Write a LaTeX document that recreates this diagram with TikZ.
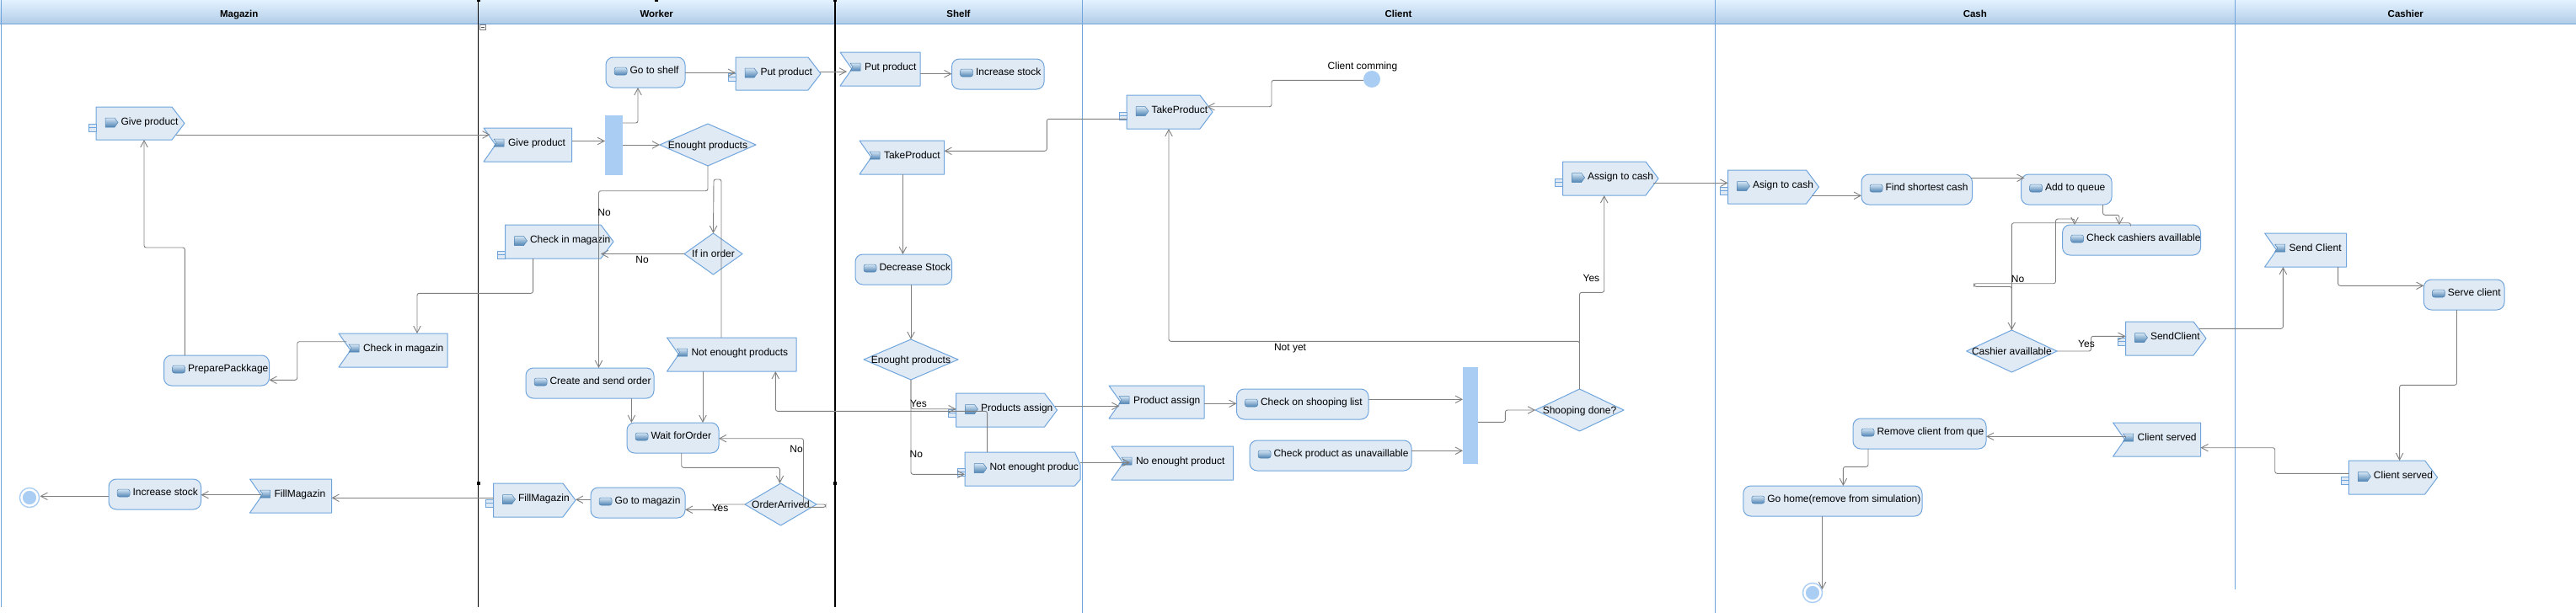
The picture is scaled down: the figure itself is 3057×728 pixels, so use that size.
\documentclass[tikz,border=0pt]{standalone}
\usepackage{fontspec}
\setmainfont{Liberation Sans}
\usetikzlibrary{arrows.meta,calc}
\definecolor{edgeblue}{HTML}{6FA5DC}
\definecolor{boxfill}{HTML}{E0EAF5}
\definecolor{barblue}{HTML}{A9CDF3}
\definecolor{connc}{HTML}{808080}
\definecolor{hdtop}{HTML}{E3F2FF}
\definecolor{hdbot}{HTML}{B2CDE7}
\definecolor{icdark}{HTML}{4F83B3}
\definecolor{iclight}{HTML}{D5E6F5}
\tikzset{
  outline/.style={draw=edgeblue,fill=boxfill,line width=1pt,line join=round},
  roundact/.style={outline,rectangle,rounded corners=9pt,inner sep=0pt,outer sep=0pt,text height=8pt,text depth=4.4pt,font=\fontsize{12}{14}\selectfont},
  evtext/.style={rectangle,inner sep=0pt,outer sep=0pt,text height=8pt,text depth=4.4pt,font=\fontsize{12}{14}\selectfont},
  dectext/.style={rectangle,inner sep=0pt,outer sep=0pt,text height=10pt,text depth=2pt,font=\fontsize{12}{14}\selectfont},
  lab/.style={inner sep=0pt,font=\fontsize{12}{14}\selectfont},
  hdcell/.style={rectangle,inner sep=0pt,outer sep=0pt,top color=hdtop,bottom color=hdbot,text height=14pt,text depth=2pt,font=\bfseries\fontsize{11.5}{14}\selectfont},
  conn/.style={draw=connc,line width=0.9pt,rounded corners=2.5pt,-{Straight Barb[length=8pt,width=8.5pt]}},
  iconst/.style={top color=iclight,bottom color=icdark,draw=icdark,line width=0.5pt},
  barnode/.style={rectangle,fill=barblue,inner sep=0pt,outer sep=0pt},
  blueline/.style={draw=edgeblue,line width=1pt},
  blackline/.style={draw=black,line width=1.5pt},
}
% rounded action: name,x1,y1,x2,y2,text
\newcommand{\roundact}[6]{%
  \pgfmathsetmacro\wid{#4-#2}\pgfmathsetmacro\hei{#5-#3}%
  \node[roundact,anchor=north west,minimum width=\wid pt,minimum height=\hei pt] (#1) at (#2,#3) {\makebox[\wid pt][l]{\hspace{28.5pt}#6}};
  \pgfmathsetmacro\cy{(#3+#5)/2}%
  \draw[iconst,rounded corners=2.5pt] (#2+10,\cy-6) rectangle (#2+25,\cy+3);
}
% send event: name,x1,y1,x2,y2,text
\newcommand{\sendev}[6]{%
  \pgfmathsetmacro\wid{#4-#2}\pgfmathsetmacro\hei{#5-#3}\pgfmathsetmacro\cy{(#3+#5)/2}%
  \draw[outline] (#2,#3) -- (#4-15,#3) -- (#4,\cy) -- (#4-15,#5) -- (#2,#5) -- cycle;
  \draw[iconst] (#2+11,\cy-6.5) -- (#2+22,\cy-6.5) -- (#2+26,\cy-1) -- (#2+22,\cy+4.5) -- (#2+11,\cy+4.5) -- cycle;
  \node[evtext,anchor=north west,minimum width=\wid pt,minimum height=\hei pt] (#1) at (#2,#3) {\makebox[\wid pt][l]{\hspace{29.5pt}#6}};
}
% accept event: name,x1,y1,x2,y2,text
\newcommand{\acceptev}[6]{%
  \pgfmathsetmacro\wid{#4-#2}\pgfmathsetmacro\hei{#5-#3}\pgfmathsetmacro\cy{(#3+#5)/2}%
  \draw[outline] (#2,#3) -- (#4,#3) -- (#4,#5) -- (#2,#5) -- (#2+14,\cy) -- cycle;
  \draw[iconst] (#2+12,\cy-7) -- (#2+24,\cy-7) -- (#2+24,\cy+2) -- (#2+12,\cy+2) -- (#2+15,\cy-2.5) -- cycle;
  \node[evtext,anchor=north west,minimum width=\wid pt,minimum height=\hei pt] (#1) at (#2,#3) {\makebox[\wid pt][l]{\hspace{29pt}#6}};
}
% decision: name,x1,y1,x2,y2,text
\newcommand{\decis}[6]{%
  \pgfmathsetmacro\wid{#4-#2}\pgfmathsetmacro\hei{#5-#3}\pgfmathsetmacro\cy{(#3+#5)/2}\pgfmathsetmacro\cx{(#2+#4)/2}%
  \draw[outline] (#2,\cy) -- (\cx,#3) -- (#4,\cy) -- (\cx,#5) -- cycle;
  \node[dectext,anchor=north west,minimum width=\wid pt,minimum height=\hei pt] (#1) at (#2,#3) {#6};
}
% pin: x of right edge, y top
\newcommand{\pinbox}[2]{%
  \draw[draw=edgeblue,fill=boxfill,line width=0.8pt] (#1-9,#2) rectangle (#1,#2+9);
  \draw[draw=edgeblue,line width=0.6pt] (#1-9,#2+4.5) -- (#1,#2+4.5);
}
\begin{document}
\begin{tikzpicture}[x=1pt,y=-1pt]
\useasboundingbox (0,0) rectangle (3057,728);
\fill[white] (0,0) rectangle (3057,728);
% swimlane headers
\node[hdcell,anchor=north west,minimum width=567.5pt,minimum height=28pt] (hMag) at (0,0) {Magazin};
\node[hdcell,anchor=north west,minimum width=423.5pt,minimum height=28pt] (hWork) at (567.5,0) {Worker};
\node[hdcell,anchor=north west,minimum width=293pt,minimum height=28pt] (hShelf) at (991,0) {Shelf};
\node[hdcell,anchor=north west,minimum width=751pt,minimum height=28pt] (hClient) at (1284,0) {Client};
\node[hdcell,anchor=north west,minimum width=617.6pt,minimum height=28pt] (hCash) at (2035,0) {Cash};
\node[hdcell,anchor=north west,minimum width=404.4pt,minimum height=28pt] (hCashier) at (2652.6,0) {Cashier};
\draw[blueline] (0,28) -- (3057,28);
\draw[blueline] (1,0) -- (1,721);
\draw[blueline] (1284,0) -- (1284,728);
\draw[blueline] (2035,0) -- (2035,728);
\draw[blueline] (2652.6,0) -- (2652.6,700);
\draw[blackline] (567.5,0) -- (567.5,721);
\draw[blackline] (991,0) -- (991,721);
\fill[black] (565.5,0) rectangle (570,1.5);
\fill[black] (776.5,0) rectangle (780.5,1.5);
\fill[black] (989,0) rectangle (993,1.5);
\fill[black] (565.5,572) rectangle (570,576);
\fill[black] (989,572) rectangle (993,576);
\draw[draw=gray,fill=white,line width=0.7pt] (569.5,29.5) rectangle (576,35.5);
\draw[draw=black!70,line width=0.8pt] (570.5,32.5) -- (575,32.5);
% Magazin
\sendev{gpS}{114}{127}{219}{166}{Give product}\pinbox{114}{147}
\roundact{prep}{194.5}{422}{319.5}{458}{PreparePackkage}
\acceptev{cimA}{402}{396}{531}{436}{Check in magazin}
\roundact{isM}{129}{569}{238.5}{605}{Increase stock}
\acceptev{fmA}{296.5}{569}{393.5}{609}{FillMagazin}
\node[circle,fill=barblue,draw=barblue,line width=1.5pt,double=white,double distance=2.5pt,minimum size=19pt,inner sep=0pt,outer sep=3pt] (endM) at (35,591) {};
% Worker
\roundact{gts}{719}{68}{813}{104}{Go to shelf}
\sendev{ppS}{873}{68}{974}{107}{Put product}\pinbox{873}{87}
\acceptev{gpA}{574}{152}{678.6}{192}{Give product}
\node[barnode,anchor=north west,minimum width=21pt,minimum height=71pt] (fork1) at (718,137) {};
\decis{enW}{783}{147}{897}{197}{Enought products}
\decis{ifo}{812}{277}{881}{326}{If in order}
\sendev{cimS}{599.5}{267}{728}{307}{Check in magazin}\pinbox{599.5}{298}
\acceptev{nepA}{791.5}{401}{945}{441}{Not enought products}
\roundact{cso}{624}{437}{776}{473}{Create and send order}
\roundact{wfo}{744}{502}{853}{538}{Wait forOrder}
\sendev{fmS}{585.5}{574}{683}{614}{FillMagazin}\pinbox{585.5}{593}
\roundact{gtm}{701}{579}{813}{615}{Go to magazin}
\decis{oa}{884}{574}{969}{624}{OrderArrived}
% Shelf
\acceptev{ppA}{997}{62}{1092}{102}{Put product}
\roundact{isS}{1129.5}{70}{1239}{106}{Increase stock}
\acceptev{tpA}{1020}{167}{1120.5}{207}{TakeProduct}
\roundact{ds}{1015}{302}{1129.5}{338}{Decrease Stock}
\decis{en2}{1025}{403}{1137}{451}{Enought products}
\sendev{paS}{1134.5}{467}{1254.5}{507}{Products assign}\pinbox{1134.5}{486}
\draw[outline] (1145,537) -- (1275.5,537) -- (1282,552) -- (1282,569.5) -- (1275.5,577) -- (1145,577) -- cycle;
\draw[iconst] (1156,550.5) -- (1167,550.5) -- (1171,556) -- (1167,561.5) -- (1156,561.5) -- cycle;
\node[evtext,anchor=north west,minimum width=137pt,minimum height=40pt] (nepS) at (1145,537) {\makebox[137pt][l]{\hspace{29.5pt}Not enought produc}};
\pinbox{1145}{556}
% Client
\sendev{tpS}{1337}{113}{1439}{153}{TakeProduct}\pinbox{1337}{133}
\node[circle,fill=barblue,minimum size=20pt,inner sep=0pt,outer sep=0pt] (cc) at (1628,94) {};
\node[lab] (ccl) at (1617,79) {Client comming};
\sendev{acS}{1854.6}{192}{1968}{232}{Assign to cash}\pinbox{1854.6}{212}
\acceptev{paA}{1316}{458}{1429}{497}{Product assign}
\acceptev{neA}{1319}{530}{1463.6}{570}{No enought product}
\roundact{cosl}{1467.5}{462}{1624}{498}{Check on shooping list}
\roundact{cpu}{1483}{523}{1675}{559}{Check product as unavaillable}
\node[barnode,anchor=north west,minimum width=18pt,minimum height=115pt] (fork2) at (1736,436) {};
\decis{sd}{1822}{462}{1927}{512}{Shooping done?}
% Cash
\sendev{asS}{2050.5}{202}{2158.5}{242}{Asign to cash}\pinbox{2050.5}{222}
\roundact{fsc}{2209}{207}{2340.5}{243}{Find shortest cash}
\roundact{atq}{2398.5}{207}{2506}{243}{Add to queue}
\roundact{cca}{2447.6}{267}{2611.5}{303}{Check cashiers availlable}
\decis{ca}{2333.7}{392}{2441}{442}{Cashier availlable}
\sendev{scS}{2522.5}{382}{2618}{422}{SendClient}\pinbox{2522.5}{401}
\roundact{rcq}{2199}{497}{2357}{533}{Remove client from que}
\acceptev{csA}{2507.6}{502}{2611.5}{542}{Client served}
\roundact{gh}{2068.8}{577}{2281}{613}{Go home(remove from simulation)}
\node[circle,fill=barblue,draw=barblue,line width=1.5pt,double=white,double distance=2.5pt,minimum size=19pt,inner sep=0pt,outer sep=3pt] (endC) at (2151,704) {};
% Cashier
\acceptev{scA}{2687.6}{277}{2784.7}{317}{Send Client}
\roundact{serve}{2876.4}{332}{2972}{368}{Serve client}
\sendev{csS}{2787.4}{547}{2892.6}{587}{Client served}\pinbox{2787.4}{566}
% connectors
\draw[conn] ($(gpS.east |- 0,160)+(-10,0)$) -- ($(gpA.west |- 0,160)+(7.5,0)$);
\draw[conn] (prep.north -| 219.4,0) -- (219.4,294) -- (171,294) -- (gpS.south -| 171,0);
\draw[conn] (cimS.south -| 632.6,0) -- (632.6,348.3) -- (495,348.3) -- (cimA.north -| 495,0);
\draw[conn] (gpA.east |- 0,167.5) -- (fork1.west |- 0,167.5);
\draw[conn] (fork1.east |- 0,146) -- (757,146) -- (gts.south -| 757,0);
\draw[conn] (fork1.east |- enW.west) -- (enW.west);
\draw[conn] (gts.east |- 0,86.3) -- (ppS.west |- 0,86.3);
\draw[conn] ($(ppS.east |- 0,85)+(-1,0)$) -- ($(ppA.west |- 0,85)+(8,0)$);
\draw[conn] (enW.south) -- (enW.south |- 0,226.7) -- (710.5,226.7) -- (cso.north -| 710.5,0);
\draw[conn] (nepA.north -| 856,0) -- (856,213) -- (847,213) -- (ifo.north);
\draw[conn] (ifo.west) -- ($(cimS.east |- ifo.west)+(-15,0)$);
\draw[conn] (cso.south -| 749.4,0) -- (wfo.north -| 749.4,0);
\draw[conn] (nepA.south -| 834,0) -- (wfo.north -| 834,0);
\draw[conn] (wfo.south -| 808.7,0) -- (808.7,555.3) -- (925.4,555.3) -- (oa.north -| 925.4,0);
\draw[conn] (oa.east) -- (980,599) -- (980,602.3) -- (953.5,602.3) -- (953.5,520.7) -- (wfo.east |- 0,520.7);
\draw[conn] (oa.west) -- (852.7,599) -- (852.7,605.3) -- (gtm.east |- 0,605.3);
\draw[conn] (gtm.west |- 0,593.3) -- (fmS.east |- 0,593.3);
\draw[conn] (fmS.west |- 0,591.3) -- (fmA.east |- 0,591.3);
\draw[conn] ($(fmA.west |- 0,587.7)+(13,0)$) -- (isM.east |- 0,587.7);
\draw[conn] (isM.west |- 0,589.3) -- (endM.east |- 0,589.3);
\draw[conn] ($(cimA.west |- 0,405.7)+(9,0)$) -- (352.7,405.7) -- (352.7,451.3) -- (prep.east |- 0,451.3);
\draw[conn] (nepS.north -| 1171.6,0) -- (1171.6,488.3) -- (920.3,488.3) -- (nepA.south -| 920.3,0);
\draw[conn] (ppA.east |- 0,87.7) -- (isS.west |- 0,87.7);
\draw[conn] (tpS.west |- 0,141.3) -- (1242.3,141.3) -- (1242.3,179.3) -- (tpA.east |- 0,179.3);
\draw[conn] (cc.west |- 0,95.3) -- (1509,95.3) -- (1509,126.7) -- ($(tpS.east |- 0,126.7)+(-6.5,0)$);
\draw[conn] (tpA.south -| 1071.4,0) -- (ds.north -| 1071.4,0);
\draw[conn] (ds.south -| en2.north) -- (en2.north);
\draw[conn] (en2.south) -- (en2.south |- 0,485.7) -- (paS.west |- 0,485.7);
\draw[conn] (en2.south) -- (en2.south |- 0,563.3) -- (nepS.west |- 0,563.3);
\draw[conn] ($(paS.east |- 0,482.3)+(-2.5,0)$) -- ($(paA.west |- 0,482.3)+(12.4,0)$);
\draw[conn] (nepS.east |- 0,549.3) -- ($(neA.west |- 0,549.3)+(22,0)$);
\draw[conn] (paA.east |- 0,479.3) -- (cosl.west |- 0,479.3);
\draw[conn] (cosl.east |- 0,474.3) -- (fork2.west |- 0,474.3);
\draw[conn] (cpu.east |- 0,535.3) -- (fork2.west |- 0,535.3);
\draw[conn] (fork2.east |- 0,501.3) -- (1786.4,501.3) -- (1786.4,487) -- (sd.west);
\draw[conn] (sd.north) -- (sd.north |- 0,347.3) -- (1903.7,347.3) -- (acS.south -| 1903.7,0);
\draw[conn] (sd.north) -- (sd.north |- 0,405.3) -- (1387,405.3) -- (tpS.south -| 1387,0);
\draw[conn] ($(acS.east |- 0,217.3)+(-6,0)$) -- (asS.west |- 0,217.3);
\draw[conn] ($(asS.east |- 0,232.3)+(-8.5,0)$) -- (fsc.west |- 0,232.3);
\draw[conn] ($(fsc.east |- 0,211.3)+(-2,0)$) -- ($(atq.west |- 0,211.3)+(4,0)$);
\draw[conn] (atq.south -| 2495.5,0) -- (2495.5,255.3) -- (2515,255.3) -- (cca.north -| 2515,0);
\draw[conn] (cca.north -| 2528.5,0) -- (2528.5,264.7) -- (ca.north |- 0,264.7) -- (ca.north);
\draw[conn] (ca.north) -- (ca.north |- 0,340.3) -- (2342.5,340.3) -- (2342.5,336.7) -- (2439.5,336.7) -- (2439.5,260) -- (2462,260) -- (cca.north -| 2462,0);
\draw[conn] (ca.east) -- (2481.5,417) -- (2481.5,399.3) -- (scS.west |- 0,399.3);
\draw[conn] ($(scS.east |- 0,390.3)+(-8,0)$) -- (2709.4,390.3) -- (scA.south -| 2709.4,0);
\draw[conn] (scA.south -| 2774.6,0) -- (2774.6,339.3) -- (serve.west |- 0,339.3);
\draw[conn] (serve.south -| 2915.5,0) -- (2915.5,457.3) -- (2847.6,457.3) -- (csS.north -| 2847.6,0);
\draw[conn] (csS.west |- 0,562.3) -- (2699.7,562.3) -- (2699.7,531.7) -- (csA.east |- 0,531.7);
\draw[conn] ($(csA.west |- 0,518.3)+(15,0)$) -- (rcq.east |- 0,518.3);
\draw[conn] (rcq.south -| 2217,0) -- (2217,554.3) -- (2187.4,554.3) -- (gh.north -| 2187.4,0);
\draw[conn] (gh.south -| 2162.5,0) -- ($(endC.center)+(11.5,-4)$);
% connector labels
\node[lab] (l1) at (717,252) {No};
\node[lab] (l2) at (762,308) {No};
\node[lab] (l3) at (945,533) {No};
\node[lab] (l4) at (854.6,603) {Yes};
\node[lab] (l5) at (1090,479.3) {Yes};
\node[lab] (l6) at (1087.4,539.3) {No};
\node[lab] (l7) at (1888.4,330) {Yes};
\node[lab] (l8) at (1531,413.3) {Not yet};
\node[lab] (l9) at (2394.5,331) {No};
\node[lab] (l10) at (2476,408.3) {Yes};
\end{tikzpicture}
\end{document}
